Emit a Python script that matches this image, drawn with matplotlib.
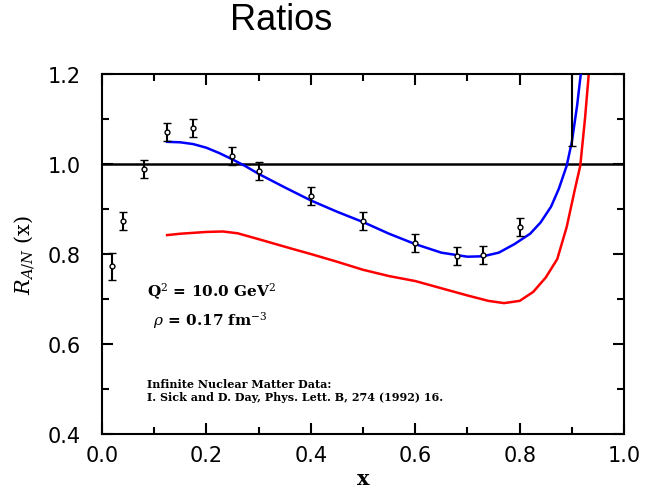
import numpy as np
import matplotlib.pyplot as plt
from matplotlib.ticker import MultipleLocator

plt.rcParams['mathtext.fontset'] = 'dejavuserif'

# data points
x_data = [0.02, 0.04, 0.08, 0.125, 0.175, 0.25, 0.30, 0.40, 0.50, 0.60, 0.68, 0.73, 0.80, 0.90]
y_data = [0.773, 0.873, 0.989, 1.071, 1.080, 1.018, 0.984, 0.929, 0.873, 0.824, 0.796, 0.798, 0.860, 1.35]
y_err = [0.03, 0.02, 0.02, 0.02, 0.02, 0.02, 0.02, 0.02, 0.02, 0.02, 0.02, 0.02, 0.02, 0.31]

# blue curve
x_blue = [0.125, 0.15, 0.175, 0.2, 0.225, 0.25, 0.275, 0.3, 0.35, 0.4, 0.45, 0.5, 0.55, 0.6,
          0.65, 0.7, 0.73, 0.76, 0.79, 0.82, 0.84, 0.86, 0.875, 0.89, 0.9, 0.91, 0.918]
y_blue = [1.049, 1.048, 1.044, 1.036, 1.024, 1.010, 0.995, 0.978, 0.948, 0.919, 0.894, 0.871, 0.845, 0.822,
          0.803, 0.794, 0.795, 0.803, 0.822, 0.845, 0.870, 0.905, 0.945, 0.996, 1.050, 1.130, 1.210]

# red curve
x_red = [0.125, 0.15, 0.2, 0.232, 0.26, 0.3, 0.366, 0.4, 0.45, 0.5, 0.55, 0.6, 0.65, 0.7,
         0.74, 0.77, 0.8, 0.826, 0.85, 0.872, 0.89, 0.905, 0.916, 0.925, 0.933]
y_red = [0.842, 0.845, 0.849, 0.850, 0.846, 0.833, 0.811, 0.800, 0.783, 0.765, 0.751, 0.740, 0.724, 0.708,
         0.696, 0.691, 0.696, 0.716, 0.748, 0.789, 0.860, 0.940, 0.996, 1.100, 1.210]

fig = plt.figure(figsize=(6.57, 4.89), dpi=100)
ax = fig.add_axes([0.155, 0.110, 0.795, 0.737])

ax.axhline(1.0, color='black', lw=1.8, zorder=1)
ax.plot(x_red, y_red, color='red', lw=1.8, zorder=2)
ax.plot(x_blue, y_blue, color='blue', lw=1.8, zorder=3)
ax.errorbar(x_data, y_data, yerr=y_err, fmt='o', ms=3.5, mfc='white', mec='black',
            mew=1.0, ecolor='black', elinewidth=1.5, capsize=3, capthick=1.5, zorder=4)

ax.set_xlim(0.0, 1.0)
ax.set_ylim(0.4, 1.2)
ax.xaxis.set_major_locator(MultipleLocator(0.2))
ax.xaxis.set_minor_locator(MultipleLocator(0.1))
ax.yaxis.set_major_locator(MultipleLocator(0.2))
ax.yaxis.set_minor_locator(MultipleLocator(0.1))
ax.xaxis.set_major_formatter(plt.FormatStrFormatter('%.1f'))
ax.yaxis.set_major_formatter(plt.FormatStrFormatter('%.1f'))
ax.tick_params(which='both', direction='in', top=True, right=True, width=1.5,
               labelsize=15)
ax.tick_params(which='major', length=8)
ax.tick_params(axis='x', which='major', pad=8)
ax.tick_params(axis='y', which='major', pad=15)
ax.tick_params(which='minor', length=5)
for s in ax.spines.values():
    s.set_linewidth(1.5)

ax.set_xlabel('x', fontsize=15, fontweight='bold', family='DejaVu Serif', labelpad=2)
ax.set_ylabel(r'$R_{A/N}$ (x)', fontsize=15, family='DejaVu Serif', labelpad=8)

ax.text(0.086, 0.707, r'Q$^2$ = 10.0 GeV$^2$', fontsize=11, fontweight='bold',
        family='DejaVu Serif')
ax.text(0.098, 0.644, r'$\rho$ = 0.17 fm$^{-3}$', fontsize=11, fontweight='bold',
        family='DejaVu Serif')
ax.text(0.086, 0.504, 'Infinite Nuclear Matter Data:', fontsize=8, fontweight='bold',
        family='DejaVu Serif')
ax.text(0.086, 0.476, 'I. Sick and D. Day, Phys. Lett. B, 274 (1992) 16.', fontsize=8,
        fontweight='bold', family='DejaVu Serif')

fig.text(0.428, 0.958, 'Ratios', fontsize=26, ha='center', va='center', family='Liberation Sans')

fig.savefig('out.png', dpi=100)
